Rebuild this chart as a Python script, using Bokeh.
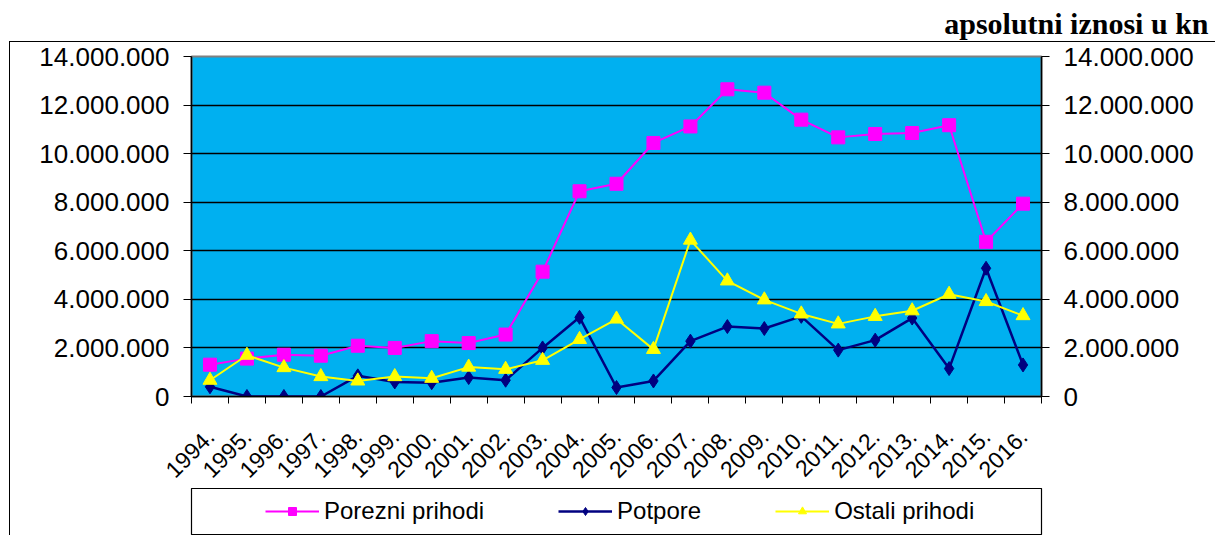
import math
from bokeh.plotting import figure
from bokeh.layouts import column
from bokeh.models import (FixedTicker, LinearAxis, Legend, LegendItem, Label)
from bokeh.embed import file_html
from bokeh.resources import INLINE

years = ["1994.", "1995.", "1996.", "1997.", "1998.", "1999.", "2000.", "2001.",
         "2002.", "2003.", "2004.", "2005.", "2006.", "2007.", "2008.", "2009.",
         "2010.", "2011.", "2012.", "2013.", "2014.", "2015.", "2016."]

porezni_prihodi = [1310000, 1560000, 1720000, 1680000, 2090000, 2000000, 2280000,
                   2200000, 2550000, 5140000, 8450000, 8760000, 10440000, 11120000,
                   12650000, 12510000, 11400000, 10670000, 10810000, 10850000,
                   11170000, 6370000, 7940000]
potpore = [400000, 0, 0, 0, 850000, 600000, 570000, 780000, 670000, 2000000,
           3260000, 370000, 640000, 2280000, 2880000, 2800000, 3300000, 1910000,
           2320000, 3230000, 1150000, 5280000, 1300000]
ostali_prihodi = [670000, 1700000, 1190000, 820000, 640000, 820000, 750000, 1210000,
                  1120000, 1490000, 2350000, 3190000, 1940000, 6440000, 4760000,
                  3980000, 3400000, 2990000, 3300000, 3530000, 4210000, 3910000,
                  3330000]

y_ticks = [0, 2000000, 4000000, 6000000, 8000000, 10000000, 12000000, 14000000]
y_tick_labels = ["0", "2.000.000", "4.000.000", "6.000.000", "8.000.000",
                 "10.000.000", "12.000.000", "14.000.000"]
unit_title = "apsolutni iznosi u kn"
series_names = ["Porezni prihodi", "Potpore", "Ostali prihodi"]

FONT = "Liberation Sans"
C_POR, C_POT, C_OST = "#FF00FF", "#000080", "#FFFF00"
xs = list(range(len(years)))

# ---------- title strip ----------
pt = figure(width=1216, height=41, output_backend="svg", toolbar_location=None,
            x_range=(0, 1), y_range=(0, 1), min_border=0,
            x_axis_location=None, y_axis_location=None)
pt.grid.visible = False
pt.outline_line_color = None
pt.add_layout(Label(x=1208, y=18, x_units="screen", y_units="screen", text=unit_title,
                    text_align="right", text_baseline="alphabetic",
                    text_font="Liberation Serif", text_font_style="bold",
                    text_font_size="30px", text_color="black"))

# ---------- main chart ----------
p = figure(width=1205, height=446, output_backend="svg", toolbar_location=None,
           x_range=(-0.5, len(years) - 0.5), y_range=(0, 14000000),
           min_border_left=181, min_border_right=174, min_border_top=14,
           min_border_bottom=90)
p.background_fill_color = "#00B0F0"
p.border_fill_color = "white"
p.outline_line_color = "#808080"
p.outline_line_width = 2

xax = p.xaxis[0]
xax.ticker = FixedTicker(ticks=xs, minor_ticks=[i - 0.5 for i in range(len(years) + 1)])
xax.major_label_overrides = {i: years[i] for i in xs}
xax.major_label_orientation = math.pi / 4
xax.major_tick_out = 0
xax.major_tick_in = 0
xax.minor_tick_out = 7
xax.minor_tick_in = 0
xax.minor_tick_line_color = "black"
xax.axis_line_color = "black"
xax.axis_line_width = 1.5
xax.major_label_standoff = 29
xax.major_label_text_font = FONT
xax.major_label_text_font_size = "23px"
xax.major_label_text_color = "black"

ytick = FixedTicker(ticks=y_ticks, minor_ticks=[])
ylab = {v: l for v, l in zip(y_ticks, y_tick_labels)}

p.yaxis[0].ticker = ytick
yax_r = LinearAxis(ticker=ytick)
p.add_layout(yax_r, "right")
for ax, st in [(p.yaxis[0], 14), (yax_r, 14)]:
    ax.major_label_overrides = ylab
    ax.major_tick_out = 8
    ax.major_tick_in = 0
    ax.minor_tick_out = 0
    ax.minor_tick_in = 0
    ax.major_tick_line_color = "black"
    ax.axis_line_color = "black"
    ax.axis_line_width = 1.5
    ax.major_label_standoff = st
    ax.major_label_text_font = FONT
    ax.major_label_text_font_size = "26px"
    ax.major_label_text_color = "black"

p.xgrid.visible = False
p.ygrid.ticker = ytick
p.ygrid.grid_line_color = "black"
p.ygrid.grid_line_width = 1.3

p.line(xs, porezni_prihodi, line_color=C_POR, line_width=2)
p.scatter(xs, porezni_prihodi, marker="square", size=13,
          fill_color=C_POR, line_color=C_POR)
p.line(xs, potpore, line_color=C_POT, line_width=2.5)
p.scatter(xs, potpore, marker="diamond", size=14,
          fill_color=C_POT, line_color=C_POT)
p.line(xs, ostali_prihodi, line_color=C_OST, line_width=2)
p.scatter(xs, ostali_prihodi, marker="triangle", size=14,
          fill_color=C_OST, line_color=C_OST)

# ---------- legend box ----------
# same series drawn into a range that shows none of them; only their legend glyphs appear
pl = figure(width=1205, height=47, output_backend="svg", toolbar_location=None,
            x_range=(0, 1), y_range=(-2, -1), min_border_left=181,
            min_border_right=174, min_border_top=0, min_border_bottom=1,
            x_axis_location=None, y_axis_location=None)
pl.grid.visible = False
pl.outline_line_color = "black"
pl.outline_line_width = 1.2
items = []
for name, vals, col, mk, sz, lw in [
        (series_names[0], porezni_prihodi, C_POR, "square", 10, 2),
        (series_names[1], potpore, C_POT, "diamond", 12, 2.5),
        (series_names[2], ostali_prihodi, C_OST, "triangle", 12, 2)]:
    lr = pl.line(xs, vals, line_color=col, line_width=lw)
    sr = pl.scatter(xs, vals, marker=mk, size=sz, fill_color=col, line_color=col)
    items.append(LegendItem(label=name, renderers=[lr, sr]))
legend = Legend(items=items, orientation="horizontal", location=(74, 9),
                padding=0, margin=0, spacing=74, glyph_width=54, glyph_height=20,
                label_height=20, label_standoff=5, label_text_font=FONT,
                label_text_font_size="24px", label_text_color="black",
                border_line_alpha=0, background_fill_alpha=0)
pl.add_layout(legend)

box = column(p, pl, styles={"border-top": "1.5px solid black",
                            "border-left": "1.5px solid black",
                            "margin-left": "9px"})
layout = column(pt, box)

open("out.html", "w").write(file_html(layout, INLINE))
